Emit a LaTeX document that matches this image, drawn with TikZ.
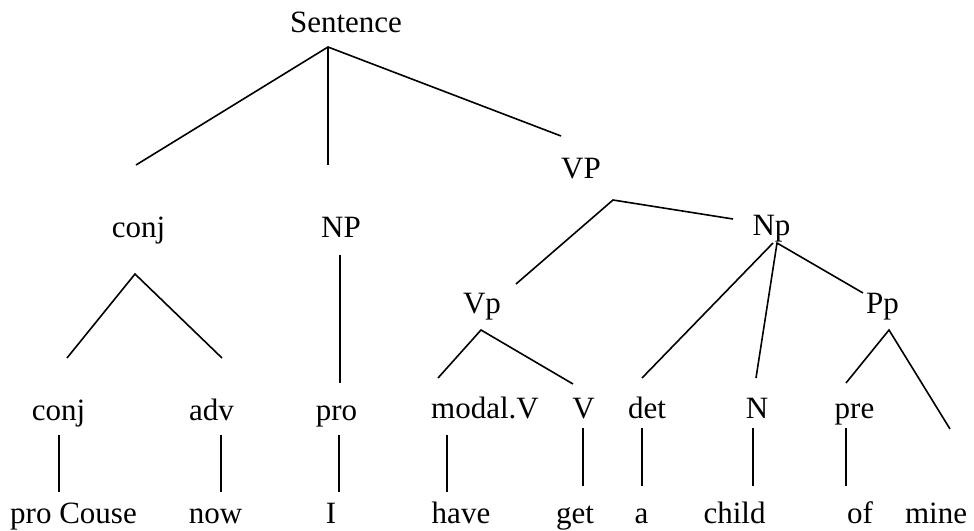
\documentclass[tikz,border=0pt]{standalone}
\usepackage{fontspec}
\setmainfont{Liberation Serif}
\begin{document}
\begin{tikzpicture}[x=1pt,y=-1pt,
  lbl/.style={inner sep=0pt,outer sep=0pt,anchor=base,font=\fontsize{31}{36}\selectfont},
  edge/.style={line width=1.6pt,line cap=butt}]
\useasboundingbox (0,0) rectangle (974,530);
% labels
\node[lbl] (S) at (346,32) {Sentence};
\node[lbl] (VP) at (581,178) {VP};
\node[lbl] (conjA) at (138.5,237) {conj};
\node[lbl] (NP) at (341,237) {NP};
\node[lbl] (Np) at (771.5,235) {Np};
\node[lbl] (Vp) at (482,313) {Vp};
\node[lbl] (Pp) at (882.5,313) {Pp};
\node[lbl] (conjB) at (58.5,420) {conj};
\node[lbl] (adv) at (211.5,420) {adv};
\node[lbl] (pro) at (336.5,420) {pro};
\node[lbl] (modal) at (485,418) {modal.V};
\node[lbl] (V) at (583.5,418) {V};
\node[lbl] (det) at (647,418) {det};
\node[lbl] (N) at (757,418) {N};
\node[lbl] (pre) at (854.5,418) {pre};
\node[lbl] (w1) at (73.5,523) {pro Couse};
\node[lbl] (w2) at (215.5,523) {now};
\node[lbl] (w3) at (331,523) {I};
\node[lbl] (w4) at (461,523) {have};
\node[lbl] (w5) at (575,523) {get};
\node[lbl] (w6) at (641.5,523) {a};
\node[lbl] (w7) at (734.5,523) {child};
\node[lbl] (w8) at (860,523) {of};
\node[lbl] (w9) at (936,523) {mine};
% line end points
\coordinate (sTop) at (328,47);
\coordinate (sL) at (136,165);
\coordinate (sM) at (328,165);
\coordinate (sR) at (561,136);
\coordinate (cTop) at (135,274);
\coordinate (cL) at (67,358);
\coordinate (cR) at (222,358);
\coordinate (npTop) at (340,255);
\coordinate (npBot) at (340,383);
\coordinate (vpTop) at (613,200);
\coordinate (vpL) at (516,284);
\coordinate (vpR) at (733,219);
\coordinate (vTop) at (481,330);
\coordinate (vL) at (438,378);
\coordinate (vR) at (573,384);
\coordinate (nTopA) at (773,243);
\coordinate (nTopB) at (777,243);
\coordinate (nL) at (642,378);
\coordinate (nM) at (756,378);
\coordinate (nR) at (863,293);
\coordinate (pTop) at (889,330);
\coordinate (pL) at (846,383);
\coordinate (pR) at (950,429);
\foreach \n/\x/\a/\b in {a/59/435/492,b/221/435/492,c/339/435/492,d/447/435/492,
                          e/583/428/486,f/642/428/486,g/753/428/486,h/846/428/486}{
  \coordinate (t\n) at (\x,\a);
  \coordinate (u\n) at (\x,\b);
}
% connectors
\draw[edge] (sL) -- (sTop) -- (sR);
\draw[edge] (sTop) -- (sM);
\draw[edge] (cL) -- (cTop) -- (cR);
\draw[edge] (npTop) -- (npBot);
\draw[edge] (vpL) -- (vpTop) -- (vpR);
\draw[edge] (vL) -- (vTop) -- (vR);
\draw[edge] (nL) -- (nTopA);
\draw[edge] (nM) -- (nTopB) -- (nR);
\draw[edge] (pL) -- (pTop) -- (pR);
\foreach \n in {a,b,c,d,e,f,g,h}{
  \draw[edge] (t\n) -- (u\n);
}
\end{tikzpicture}
\end{document}
